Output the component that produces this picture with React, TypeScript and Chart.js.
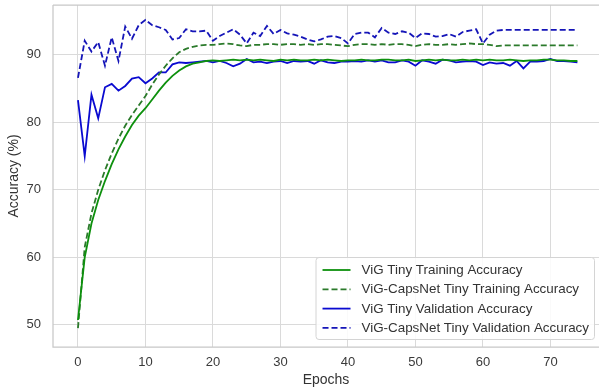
import React, { useEffect, useRef } from "react";
import { Chart, registerables } from "chart.js";

Chart.register(...registerables);

const epochs = [
  0, 1, 2, 3, 4, 5, 6, 7, 8, 9, 10, 11, 12, 13, 14, 15, 16, 17, 18, 19,
  20, 21, 22, 23, 24, 25, 26, 27, 28, 29, 30, 31, 32, 33, 34, 35, 36, 37, 38, 39,
  40, 41, 42, 43, 44, 45, 46, 47, 48, 49, 50, 51, 52, 53, 54, 55, 56, 57, 58, 59,
  60, 61, 62, 63, 64, 65, 66, 67, 68, 69, 70, 71, 72, 73, 74,
];

const xTicks = [0, 10, 20, 30, 40, 50, 60, 70];
const yTicks = [50, 60, 70, 80, 90];

const vigTrain = [
  50.7, 60.0, 65.0, 68.5, 71.3, 73.8, 76.0, 77.9, 79.6, 81.0,
  82.1, 83.4, 84.7, 85.9, 86.9, 87.7, 88.3, 88.7, 88.9, 89.1,
  89.2, 89.1, 89.2, 89.3, 89.2, 89.3, 89.2, 89.3, 89.2, 89.1,
  89.3, 89.2, 89.3, 89.2, 89.2, 89.3, 89.2, 89.3, 89.2, 89.1,
  89.2, 89.2, 89.3, 89.2, 89.2, 89.3, 89.3, 89.2, 89.2, 89.3,
  89.1, 89.2, 89.3, 89.2, 89.3, 89.2, 89.2, 89.3, 89.2, 89.3,
  89.2, 89.3, 89.2, 89.2, 89.3, 89.2, 89.1, 89.2, 89.2, 89.3,
  89.3, 89.2, 89.2, 89.1, 89.1,
];

const capsTrain = [
  49.5, 61.5, 66.5, 70.0, 72.9, 75.4, 77.6, 79.5, 81.1, 82.5,
  83.9, 85.6, 87.1, 88.4, 89.5, 90.4, 90.9, 91.2, 91.4, 91.5,
  91.5, 91.6, 91.7, 91.6, 91.4, 91.3, 91.5, 91.5, 91.6, 91.6,
  91.5, 91.6, 91.6, 91.5, 91.6, 91.5, 91.6, 91.6, 91.5, 91.4,
  91.3, 91.5, 91.6, 91.6, 91.5, 91.6, 91.5, 91.6, 91.6, 91.5,
  91.3, 91.5, 91.6, 91.5, 91.5, 91.6, 91.5, 91.6, 91.7, 91.6,
  91.6, 91.5, 91.3, 91.4, 91.4, 91.4, 91.4, 91.4, 91.4, 91.4,
  91.4, 91.4, 91.4, 91.4, 91.4,
];

const vigVal = [
  83.3, 75.0, 84.1, 80.6, 85.2, 85.7, 84.7, 85.4, 86.5, 86.7,
  85.8, 86.5, 87.4, 87.4, 88.6, 88.9, 88.8, 88.9, 89.0, 89.1,
  88.9, 89.1, 88.8, 88.3, 88.7, 89.4, 88.9, 89.0, 88.8, 89.0,
  89.1, 88.8, 89.1, 89.0, 89.1, 88.7, 89.2, 88.9, 88.8, 89.0,
  89.0, 89.1, 89.0, 89.2, 89.0, 89.2, 88.9, 88.9, 89.2, 89.0,
  88.4, 89.2, 89.0, 88.7, 89.3, 89.2, 88.9, 89.0, 89.1, 89.0,
  88.5, 88.9, 88.7, 88.8, 88.4, 89.1, 88.0, 89.0, 89.0, 89.1,
  89.4, 89.1, 89.1, 89.0, 88.9,
];

const capsVal = [
  86.6, 92.1, 90.5, 91.9, 88.4, 92.6, 89.1, 94.2, 92.4, 94.4,
  95.2, 94.4, 94.1, 93.7, 92.3, 92.5, 93.8, 93.5, 93.5, 93.6,
  92.1, 92.8, 93.3, 93.8, 93.0, 91.7, 93.3, 92.8, 94.3, 93.1,
  93.7, 93.2, 93.0, 92.7, 92.3, 92.0, 92.3, 92.7, 92.8, 92.5,
  91.7, 93.1, 93.3, 93.3, 92.6, 94.0, 93.3, 93.1, 93.5, 93.3,
  92.5, 93.2, 93.1, 92.7, 92.8, 93.1, 92.7, 93.4, 93.6, 93.8,
  91.7, 93.0, 93.6, 93.7, 93.7, 93.7, 93.7, 93.7, 93.7, 93.7,
  93.7, 93.7, 93.7, 93.7, 93.7,
];

const seriesLabels = [
  "ViG Tiny Training Accuracy",
  "ViG-CapsNet Tiny Training Accuracy",
  "ViG Tiny Validation Accuracy",
  "ViG-CapsNet Tiny Validation Accuracy",
];

const FONT = '"Liberation Sans", Arial, sans-serif';

const toPoints = (vals: number[]) => vals.map((v, i) => ({ x: epochs[i], y: v }));

const framePlugin = {
  id: "framePlugin",
  afterDraw(chart: any) {
    const { ctx, chartArea: a } = chart;
    ctx.save();
    ctx.strokeStyle = "#c8c8c8";
    ctx.lineWidth = 1.25;
    ctx.beginPath();
    ctx.moveTo(a.left, a.top);
    ctx.lineTo(a.right + 2, a.top);
    ctx.moveTo(a.left, a.top);
    ctx.lineTo(a.left, a.bottom);
    ctx.lineTo(a.right + 2, a.bottom);
    ctx.stroke();

    // legend inside plot (lower right)
    const items = chart.data.datasets;
    ctx.font = `13.4px ${FONT}`;
    const maxW = Math.max(...items.map((d: any) => ctx.measureText(d.label).width));
    const right = a.right - 5;
    const bottom = a.bottom - 8;
    const top = bottom - 82;
    const textX = right - 5 - maxW;
    const lineX1 = textX - 11;
    const lineX0 = lineX1 - 28;
    const left = lineX0 - 7;
    ctx.fillStyle = "rgba(255,255,255,0.85)";
    ctx.strokeStyle = "#d4d4d4";
    ctx.lineWidth = 1;
    ctx.beginPath();
    (ctx as any).roundRect(left + 0.5, top + 0.5, right - left, bottom - top, 3);
    ctx.fill();
    ctx.stroke();
    items.forEach((d: any, i: number) => {
      const cy = top + 13 + i * 19.3;
      ctx.strokeStyle = d.borderColor;
      ctx.lineWidth = d.borderWidth;
      ctx.setLineDash(d.borderDash || []);
      ctx.beginPath();
      ctx.moveTo(lineX0, cy);
      ctx.lineTo(lineX1, cy);
      ctx.stroke();
      ctx.setLineDash([]);
      ctx.fillStyle = "#333333";
      ctx.textAlign = "left";
      ctx.textBaseline = "middle";
      ctx.fillText(d.label, textX, cy + 0.5);
    });
    ctx.restore();
  },
};

export default function App() {
  const ref = useRef<HTMLCanvasElement | null>(null);

  useEffect(() => {
    if (!ref.current) return;
    const chart = new Chart(ref.current, {
      type: "line",
      data: {
        datasets: [
          {
            label: seriesLabels[0],
            data: toPoints(vigTrain),
            borderColor: "#0d900d",
            borderWidth: 1.8,
            pointRadius: 0,
            tension: 0,
          },
          {
            label: seriesLabels[1],
            data: toPoints(capsTrain),
            borderColor: "#2b7a2b",
            borderWidth: 1.8,
            borderDash: [6, 3],
            pointRadius: 0,
            tension: 0,
          },
          {
            label: seriesLabels[2],
            data: toPoints(vigVal),
            borderColor: "#0a0ad0",
            borderWidth: 1.8,
            pointRadius: 0,
            tension: 0,
          },
          {
            label: seriesLabels[3],
            data: toPoints(capsVal),
            borderColor: "#1515b8",
            borderWidth: 1.8,
            borderDash: [6, 3],
            pointRadius: 0,
            tension: 0,
          },
        ],
      },
      options: {
        animation: false,
        responsive: false,
        devicePixelRatio: 1,
        layout: { padding: { top: 5, right: 0, left: 0, bottom: 0 } },
        plugins: { legend: { display: false }, tooltip: { enabled: false } },
        scales: {
          x: {
            type: "linear",
            min: -3.7,
            max: 77.2,
            afterBuildTicks: (s: any) => {
              s.ticks = xTicks.map((v) => ({ value: v }));
            },
            afterFit: (s: any) => {
              s.height = 43;
              s.paddingLeft = 0;
              s.paddingRight = 0;
            },
            grid: { color: "#dadada", lineWidth: 1, drawTicks: false },
            border: { display: false },
            ticks: {
              padding: 8,
              color: "#3a3a3a",
              font: { family: FONT, size: 13 },
              maxRotation: 0,
            },
            title: {
              display: true,
              text: "Epochs",
              color: "#333333",
              font: { family: FONT, size: 14 },
              padding: { top: 0, bottom: 1 },
            },
          },
          y: {
            type: "linear",
            min: 46.7,
            max: 97.4,
            afterBuildTicks: (s: any) => {
              s.ticks = yTicks.map((v) => ({ value: v }));
            },
            afterFit: (s: any) => {
              s.width = 53;
              s.paddingTop = 0;
              s.paddingBottom = 0;
            },
            grid: { color: "#dadada", lineWidth: 1, drawTicks: false },
            border: { display: false },
            ticks: {
              padding: 12,
              color: "#3a3a3a",
              font: { family: FONT, size: 13 },
            },
            title: {
              display: true,
              text: "Accuracy (%)",
              color: "#333333",
              font: { family: FONT, size: 14 },
              padding: { top: 6, bottom: 0 },
            },
          },
        },
      },
      plugins: [framePlugin],
    } as any);
    return () => chart.destroy();
  }, []);

  return (
    <div
      style={{
        position: "fixed",
        left: 0,
        top: 0,
        width: 599,
        height: 390,
        background: "#ffffff",
        overflow: "hidden",
      }}
    >
      <canvas ref={ref} width={599} height={390} style={{ width: 599, height: 390 }} />
    </div>
  );
}
